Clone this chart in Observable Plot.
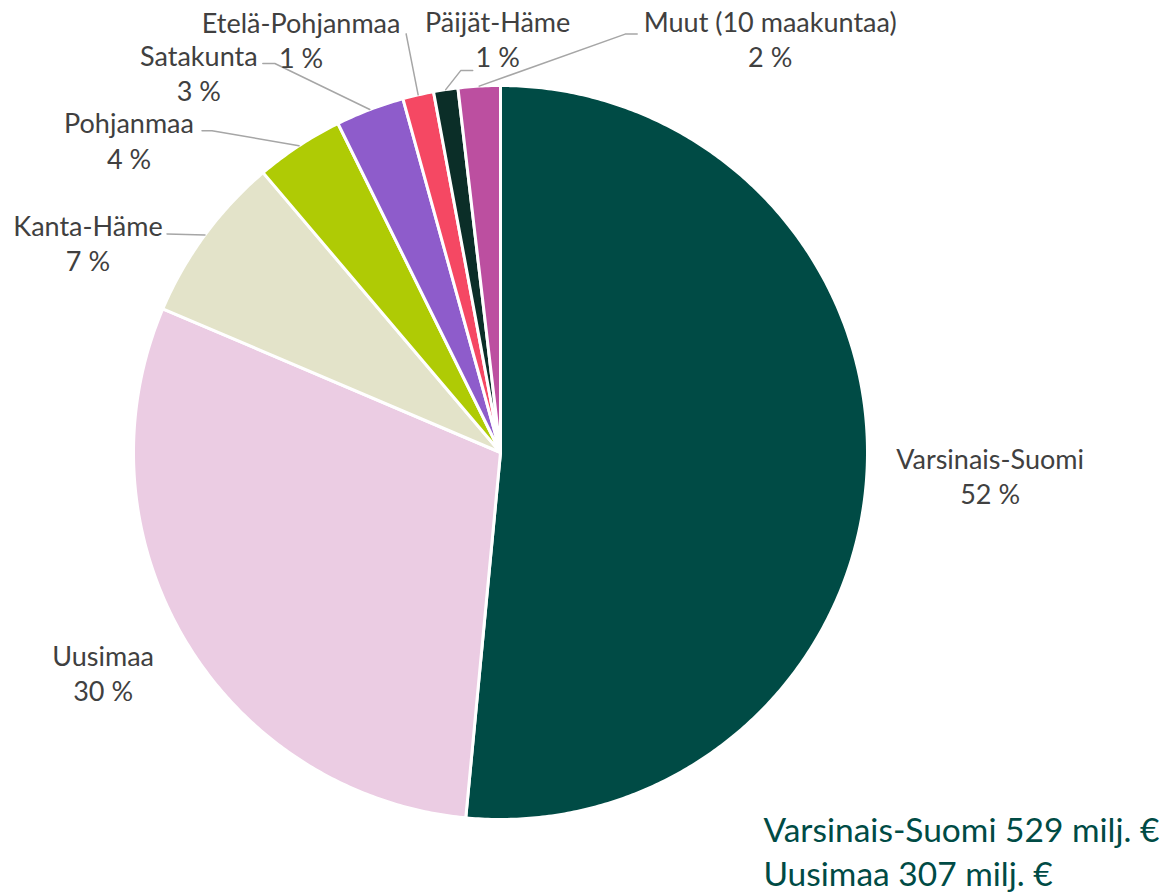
<!DOCTYPE html>
<html>
<head>
<meta charset="utf-8">
<script src="https://cdn.jsdelivr.net/npm/d3@7"></script>
<script src="https://cdn.jsdelivr.net/npm/@observablehq/plot@0.6"></script>
<style>
  html, body { margin: 0; padding: 0; background: #ffffff; }
  #chart svg { display: block; }
</style>
</head>
<body>
<div id="chart"></div>
<script>
// ---- data ----
const categories = ["Varsinais-Suomi", "Uusimaa", "Kanta-Häme", "Pohjanmaa", "Satakunta", "Etelä-Pohjanmaa", "Päijät-Häme", "Muut (10 maakuntaa)"];
const values = [529, 307, 76, 40, 31, 14, 11, 19]; // milj. €
const colors = ["#004B45", "#EBCCE3", "#E3E3C9", "#AFCB05", "#8E5CCB", "#F54863", "#0B2E28", "#BC4FA0"];
const annotationCategories = ["Varsinais-Suomi", "Uusimaa"];
const unitLabel = "milj. €";

// ---- layout (pixels) ----
const W = 1174, H = 895;
const cx = 500, cy = 452, R = 367;
// label block centre offsets from the slice's mid-arc point, and leader-line points relative to the label centre
const labelLayout = {
  "Varsinais-Suomi":     {dx: 123,  dy: 5,   leader: null},
  "Uusimaa":             {dx: -82,  dy: 32,  leader: null},
  "Kanta-Häme":          {dx: -117, dy: 7,   leader: [[79, -8]]},
  "Pohjanmaa":           {dx: -170, dy: -6,  leader: [[73, -9], [83, -9]]},
  "Satakunta":           {dx: -171, dy: -37, leader: [[64, -9], [76, -9]]},
  "Etelä-Pohjanmaa":     {dx: -117, dy: -56, leader: [[105, -5]]},
  "Päijät-Häme":         {dx: 52,   dy: -51, leader: [[-25, 32], [-37, 32]]},
  "Muut (10 maakuntaa)": {dx: 291,  dy: -48, leader: [[-133, -4], [-145, -4]]}
};

// ---- derived geometry ----
const total = d3.sum(values);
const arcs = d3.pie().sort(null).value(d => d)(values);
const slicePoints = [];
arcs.forEach((a, i) => {
  const name = categories[i];
  slicePoints.push({name, x: 0, y: 0});
  const n = Math.max(2, Math.ceil((a.endAngle - a.startAngle) / (Math.PI / 360)));
  for (let k = 0; k <= n; k++) {
    const t = a.startAngle + (a.endAngle - a.startAngle) * k / n;
    slicePoints.push({name, x: Math.sin(t), y: Math.cos(t)});
  }
});

const labels = [];
const leaders = [];
arcs.forEach((a, i) => {
  const name = categories[i];
  const mid = (a.startAngle + a.endAngle) / 2;
  const ax = Math.sin(mid), ay = Math.cos(mid);
  const L = labelLayout[name];
  const lx = ax + L.dx / R, ly = ay - L.dy / R;
  labels.push({name, x: lx, y: ly, text: name + "\n" + Math.round(values[i] / total * 100) + " %"});
  if (L.leader) {
    L.leader.forEach(([ox, oy]) => leaders.push({name, x: lx + ox / R, y: ly - oy / R}));
    leaders.push({name, x: ax, y: ay});
  }
});

const annotation = annotationCategories
  .map(c => `${c} ${values[categories.indexOf(c)]} ${unitLabel}`)
  .join("\n");

const chart = Plot.plot({
  width: W,
  height: H,
  margin: 0,
  style: {background: "#ffffff", fontFamily: "Lato, 'Open Sans', sans-serif"},
  x: {axis: null, domain: [-1, 1], range: [cx - R, cx + R]},
  y: {axis: null, domain: [-1, 1], range: [cy + R, cy - R]},
  color: {domain: categories, range: colors},
  marks: [
    Plot.line(slicePoints, {x: "x", y: "y", z: "name", fill: "name", stroke: "#ffffff", strokeWidth: 3, strokeLinejoin: "round", curve: "linear-closed"}),
    Plot.line(leaders, {x: "x", y: "y", z: "name", stroke: "#A6A6A6", strokeWidth: 1.5}),
    Plot.text(labels, {x: "x", y: "y", text: "text", fill: "#404040", fontSize: 27, lineHeight: 1.3, textAnchor: "middle", lineAnchor: "middle"}),
    Plot.text([annotation], {frameAnchor: "bottom-left", dx: 763, dy: -10, text: d => d, fill: "#004B45", fontSize: 33.5, lineHeight: 1.31, textAnchor: "start", lineAnchor: "bottom"})
  ]
});
document.getElementById("chart").appendChild(chart);
</script>
</body>
</html>
